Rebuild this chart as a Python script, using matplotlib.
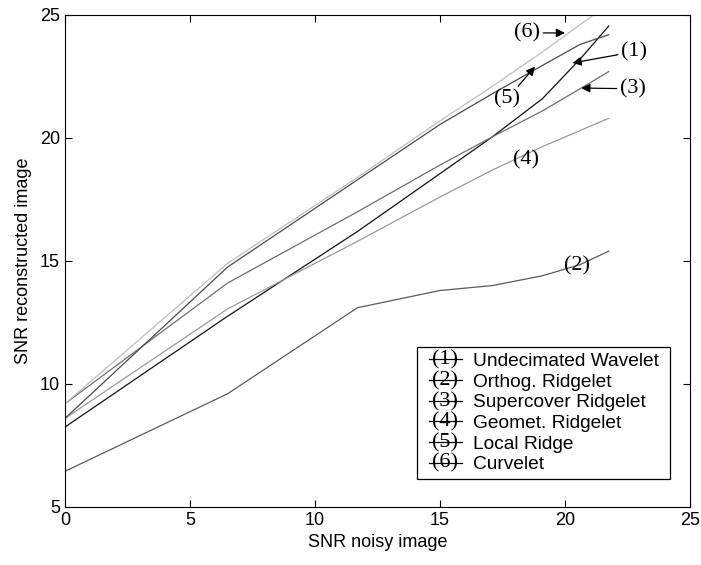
import matplotlib
matplotlib.use('Agg')
import matplotlib.pyplot as plt
from matplotlib.lines import Line2D
from matplotlib.text import Text
from matplotlib.legend_handler import HandlerBase

# SNR do ruido (eixo x) e SNR reconstruido de cada metodo
snr_noisy = [0, 6.5, 11.7, 15.0, 17.1, 19.1, 20.6, 21.75]

undecimated = [8.25, 12.75, 16.2, 18.55, 20.05, 21.6, 23.2, 24.55]
orthog = [6.45, 9.6, 13.1, 13.8, 14.0, 14.4, 14.85, 15.4]
supercover = [9.2, 14.1, 17.0, 18.9, 20.05, 21.1, 22.0, 22.7]
geomet = [8.6, 13.05, 15.8, 17.6, 18.7, 19.65, 20.3, 20.8]
local_ridge = [8.6, 14.75, 18.3, 20.55, 21.8, 22.95, 23.8, 24.2]
curvelet = [9.2, 14.9, 18.4, 20.7, 22.1, 23.5, 24.6, 25.45]

nomes = ['Undecimated Wavelet', 'Orthog. Ridgelet', 'Supercover Ridgelet',
         'Geomet. Ridgelet', 'Local Ridge', 'Curvelet']
series = [undecimated, orthog, supercover, geomet, local_ridge, curvelet]
cores = ['#111111', '#5a5a5a', '#6e6e6e', '#9a9a9a', '#4a4a4a', '#bdbdbd']

# (texto, posicao do texto, ponta da seta ou None)
anotacoes = [
    ('(6)', (18.5, 24.27), (20.0, 24.27)),
    ('(1)', (22.75, 23.5), (20.3, 23.05)),
    ('(3)', (22.7, 22.0), (20.65, 22.03)),
    ('(5)', (17.7, 21.6), (18.8, 22.9)),
    ('(4)', (18.45, 19.1), None),
    ('(2)', (20.5, 14.8), None),
]

serif = ['Liberation Serif', 'DejaVu Serif']
sans = ['Liberation Sans', 'DejaVu Sans']


class HandlerNumero(HandlerBase):
    # linha curta com o numero "(n)" por cima, igual ao legend do matlab
    def __init__(self, numero):
        super().__init__()
        self.numero = numero

    def create_artists(self, legend, orig_handle, xdescent, ydescent,
                       width, height, fontsize, trans):
        y = height / 2 - ydescent
        x0 = -xdescent + width * 0.16
        x1 = width - xdescent
        linha = Line2D([x0, x1], [y, y], color='black', lw=0.9)
        txt = Text((x0 + x1) / 2, y - 0.5, self.numero, ha='center', va='center',
                   family=serif, fontsize=16)
        linha.set_transform(trans)
        txt.set_transform(trans)
        return [linha, txt]


plt.rcParams['font.family'] = sans
fig = plt.figure(figsize=(7.01, 5.65), dpi=100)
ax = fig.add_axes([0.0927, 0.1027, 0.8916, 0.8708])

handles = []
mapa = {}
for i, (ys, cor, nome) in enumerate(zip(series, cores, nomes)):
    h, = ax.plot(snr_noisy, ys, color=cor, lw=0.9, label=nome + ' ')
    handles.append(h)
    mapa[h] = HandlerNumero(f'({i + 1})')

for texto, pos, ponta in anotacoes:
    if ponta is None:
        ax.text(pos[0], pos[1], texto, ha='center', va='center', family=serif, fontsize=16)
    else:
        ax.annotate(texto, xy=ponta, xytext=pos, ha='center', va='center',
                    family=serif, fontsize=16,
                    arrowprops=dict(arrowstyle='-|>', color='black', lw=0.9,
                                    mutation_scale=13, shrinkA=0, shrinkB=0))

ax.set_xlim(0, 25)
ax.set_ylim(5, 25)
ax.set_xticks([0, 5, 10, 15, 20, 25])
ax.set_yticks([5, 10, 15, 20, 25])
ax.tick_params(direction='in', length=5, top=True, right=True, labelsize=13, width=0.8)
for s in ax.spines.values():
    s.set_linewidth(0.8)
ax.set_xlabel('SNR noisy image', fontsize=13, labelpad=4)
ax.set_ylabel('SNR reconstructed image', fontsize=13, labelpad=6)

leg = ax.legend(handles=handles, handler_map=mapa, loc='lower right',
                bbox_to_anchor=(0.968, 0.057), fontsize=13.75, frameon=True,
                fancybox=False, edgecolor='black', framealpha=1,
                handlelength=2.05, handletextpad=0.6, labelspacing=0.17,
                borderpad=0.3, borderaxespad=0)
leg.get_frame().set_linewidth(0.9)

plt.savefig('out.png', dpi=100)
plt.close()
